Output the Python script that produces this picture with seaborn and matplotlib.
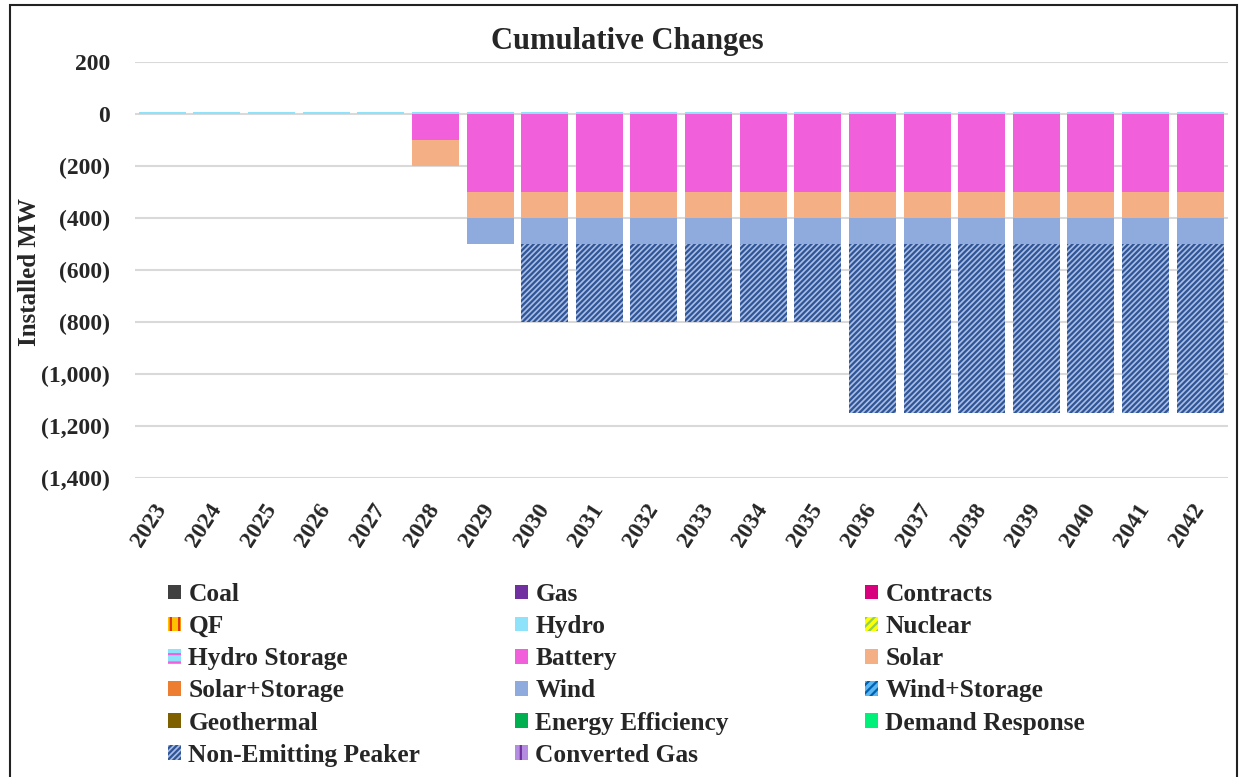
import matplotlib
matplotlib.use("Agg")
import matplotlib.pyplot as plt
import seaborn as sns
import numpy as np
import pandas as pd
from matplotlib.patches import Patch, Rectangle
from matplotlib.ticker import FuncFormatter

years = [str(y) for y in range(2023, 2043)]
hydro = [8] * 20
battery = [0, 0, 0, 0, 0, -100, -300, -300, -300, -300, -300, -300, -300, -300, -300, -300, -300, -300, -300, -300]
solar = [0, 0, 0, 0, 0, -100, -100, -100, -100, -100, -100, -100, -100, -100, -100, -100, -100, -100, -100, -100]
wind = [0, 0, 0, 0, 0, 0, -100, -100, -100, -100, -100, -100, -100, -100, -100, -100, -100, -100, -100, -100]
non_emitting_peaker = [0, 0, 0, 0, 0, 0, 0, -300, -300, -300, -300, -300, -300, -650, -650, -650, -650, -650, -650, -650]

legend_labels = ["Coal", "Gas", "Contracts", "QF", "Hydro", "Nuclear",
                 "Hydro Storage", "Battery", "Solar", "Solar+Storage", "Wind",
                 "Wind+Storage", "Geothermal", "Energy Efficiency",
                 "Demand Response", "Non-Emitting Peaker", "Converted Gas"]

styles = {
    "Coal": dict(facecolor="#404040"),
    "Gas": dict(facecolor="#7030A0"),
    "Contracts": dict(facecolor="#D9007E"),
    "QF": dict(facecolor="#FFC000", hatch="||", edgecolor="#E0301E"),
    "Hydro": dict(facecolor="#8EE3FA"),
    "Nuclear": dict(facecolor="#FFFF00", hatch="////", edgecolor="#92D050"),
    "Hydro Storage": dict(facecolor="#8EE3FA", hatch="--", edgecolor="#F25FDB"),
    "Battery": dict(facecolor="#F25FDB"),
    "Solar": dict(facecolor="#F4B084"),
    "Solar+Storage": dict(facecolor="#ED7D31"),
    "Wind": dict(facecolor="#8FAADC"),
    "Wind+Storage": dict(facecolor="#5BB5F0", hatch="////", edgecolor="#0060B0"),
    "Geothermal": dict(facecolor="#7F6000"),
    "Energy Efficiency": dict(facecolor="#00B050"),
    "Demand Response": dict(facecolor="#00F07A"),
    "Non-Emitting Peaker": dict(facecolor="#A9BDE5", hatch="//////", edgecolor="#2F5597"),
    "Converted Gas": dict(facecolor="#B48CE0", hatch="||", edgecolor="#7030A0"),
}

sns.set_theme(style="white")
plt.rcParams["font.family"] = ["Liberation Serif", "DejaVu Serif"]
plt.rcParams["font.weight"] = "bold"
plt.rcParams["hatch.linewidth"] = 1.6

fig = plt.figure(figsize=(12.44, 7.77), dpi=100)
ax = fig.add_axes([135 / 1244, 1 - 478 / 777, 1092.5 / 1244, 416 / 777])

df = pd.DataFrame({"year": years, "Hydro": hydro, "Battery": battery,
                   "Solar": solar, "Wind": wind,
                   "Non-Emitting Peaker": non_emitting_peaker})

bottom = np.zeros(len(years))
for name in ["Battery", "Solar", "Wind", "Non-Emitting Peaker"]:
    st = styles[name]
    kw = dict(color=st["facecolor"], linewidth=0, width=0.86, bottom=bottom,
              saturation=1, ax=ax, zorder=3)
    if "hatch" in st:
        kw.update(hatch=st["hatch"], edgecolor=st["edgecolor"])
    sns.barplot(data=df, x="year", y=name, **kw)
    bottom = bottom + np.array(df[name])

sns.barplot(data=df, x="year", y="Hydro", color=styles["Hydro"]["facecolor"],
            linewidth=0, width=0.86, saturation=1, ax=ax, zorder=4)

ax.set_xlim(-0.5, len(years) - 0.5)
ax.set_ylim(-1400, 200)
ax.set_yticks(range(-1400, 201, 200))
ax.yaxis.set_major_formatter(FuncFormatter(
    lambda v, p: "0" if v == 0 else (f"({abs(int(v)):,})" if v < 0 else f"{int(v):,}")))
ax.grid(axis="y", color="#D9D9D9", linewidth=1.5, zorder=0)
ax.set_axisbelow(True)
for s in ax.spines.values():
    s.set_visible(False)
ax.tick_params(axis="both", length=0, labelsize=17)
for lbl in ax.get_yticklabels():
    lbl.set_fontweight("bold")
ax.set_xticks(range(len(years)))
ax.set_xticklabels(years, rotation=57, ha="right", va="center",
                   rotation_mode="anchor", fontweight="bold", fontsize=17)
ax.tick_params(axis="x", pad=20)
ax.tick_params(axis="y", pad=18)
ax.set_xlabel("")
ax.set_ylabel("")
fig.text(0.024, 1 - 272 / 777, "Installed MW", rotation=90, fontsize=18,
         fontweight="bold", ha="center", va="center")
fig.text(627 / 1244, 1 - 41 / 777, "Cumulative Changes", fontsize=22,
         fontweight="bold", ha="center", va="center")

columns = [
    ["Coal", "QF", "Hydro Storage", "Solar+Storage", "Geothermal", "Non-Emitting Peaker"],
    ["Gas", "Hydro", "Battery", "Wind", "Energy Efficiency", "Converted Gas"],
    ["Contracts", "Nuclear", "Solar", "Wind+Storage", "Demand Response"],
]
col_x = [168, 515, 865]
for names, x in zip(columns, col_x):
    handles = []
    for name in names:
        st = styles[name]
        handles.append(Patch(facecolor=st["facecolor"], hatch=st.get("hatch"),
                             edgecolor=st.get("edgecolor", st["facecolor"]),
                             linewidth=0, label=name))
    fig.legend(handles=handles, loc="upper left",
               bbox_to_anchor=(x / 1244, 1 - 583 / 777),
               ncol=1, frameon=False, prop={"weight": "bold", "size": 18.3},
               handlelength=0.5, handleheight=0.5, handletextpad=0.3,
               labelspacing=0.36, borderaxespad=0, borderpad=0)

fig.add_artist(Rectangle((10 / 1244, -0.01), 1227 / 1244, 1 - 5 / 777 + 0.01,
                         transform=fig.transFigure, fill=False,
                         edgecolor="#222222", linewidth=1.5))

fig.savefig("out.png", dpi=100)
